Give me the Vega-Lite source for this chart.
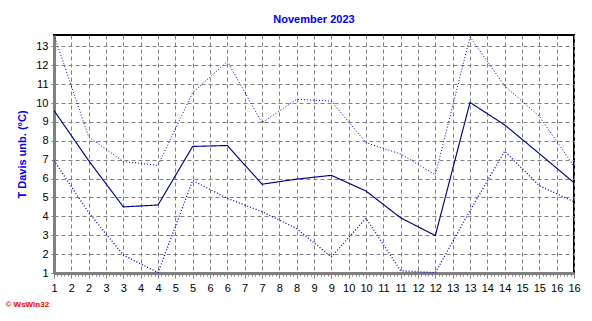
{
  "$schema": "https://vega.github.io/schema/vega-lite/v6.json",
  "autosize": "none",
  "width": 520,
  "height": 238,
  "padding": {"left": 54, "top": 35, "right": 18, "bottom": 48},
  "background": "white",
  "config": {
    "view": {"stroke": "#000000", "strokeWidth": 2},
    "font": "Liberation Sans"
  },
  "title": {
    "text": "November 2023",
    "font": "Liberation Sans",
    "fontSize": 11,
    "fontWeight": "bold",
    "color": "#0000FF",
    "offset": 10
  },
  "data": {
    "values": [
      {"day": 1, "s": "max", "t": 13.6}, {"day": 2, "s": "max", "t": 8.2}, {"day": 3, "s": "max", "t": 6.9}, {"day": 4, "s": "max", "t": 6.7},
      {"day": 5, "s": "max", "t": 10.55}, {"day": 6, "s": "max", "t": 12.2}, {"day": 7, "s": "max", "t": 8.95}, {"day": 8, "s": "max", "t": 10.2},
      {"day": 9, "s": "max", "t": 10.1}, {"day": 10, "s": "max", "t": 7.9}, {"day": 11, "s": "max", "t": 7.3}, {"day": 12, "s": "max", "t": 6.2},
      {"day": 13, "s": "max", "t": 13.5}, {"day": 14, "s": "max", "t": 10.9}, {"day": 15, "s": "max", "t": 9.3}, {"day": 16, "s": "max", "t": 6.65},
      {"day": 1, "s": "mean", "t": 9.6}, {"day": 2, "s": "mean", "t": 6.95}, {"day": 3, "s": "mean", "t": 4.5}, {"day": 4, "s": "mean", "t": 4.6},
      {"day": 5, "s": "mean", "t": 7.7}, {"day": 6, "s": "mean", "t": 7.75}, {"day": 7, "s": "mean", "t": 5.7}, {"day": 8, "s": "mean", "t": 5.97},
      {"day": 9, "s": "mean", "t": 6.17}, {"day": 10, "s": "mean", "t": 5.34}, {"day": 11, "s": "mean", "t": 3.92}, {"day": 12, "s": "mean", "t": 2.98},
      {"day": 13, "s": "mean", "t": 10.03}, {"day": 14, "s": "mean", "t": 8.84}, {"day": 15, "s": "mean", "t": 7.32}, {"day": 16, "s": "mean", "t": 5.78},
      {"day": 1, "s": "min", "t": 6.95}, {"day": 2, "s": "min", "t": 4.2}, {"day": 3, "s": "min", "t": 1.95}, {"day": 4, "s": "min", "t": 1.02},
      {"day": 5, "s": "min", "t": 5.9}, {"day": 6, "s": "min", "t": 4.95}, {"day": 7, "s": "min", "t": 4.25}, {"day": 8, "s": "min", "t": 3.35},
      {"day": 9, "s": "min", "t": 1.85}, {"day": 10, "s": "min", "t": 3.9}, {"day": 11, "s": "min", "t": 1.12}, {"day": 12, "s": "min", "t": 1.02},
      {"day": 13, "s": "min", "t": 4.3}, {"day": 14, "s": "min", "t": 7.45}, {"day": 15, "s": "min", "t": 5.62}, {"day": 16, "s": "min", "t": 4.77}
    ]
  },
  "resolve": {"axis": {"x": "independent"}},
  "layer": [
    {
      "mark": {"type": "line", "opacity": 0},
      "encoding": {
        "x": {
          "field": "day", "type": "quantitative",
          "scale": {"domain": [1, 16], "nice": false, "zero": false},
          "axis": {
            "orient": "bottom",
            "tickCount": 150,
            "labels": false, "domain": false, "grid": false, "title": null,
            "tickColor": "#808080", "tickSize": 3, "tickWidth": 1
          }
        },
        "y": {
          "field": "t", "type": "quantitative",
          "scale": {"domain": [1, 13.6], "nice": false, "zero": false},
          "axis": {
            "values": [1, 2, 3, 4, 5, 6, 7, 8, 9, 10, 11, 12, 13],
            "labelFont": "Liberation Sans", "labelFontSize": 11, "labelColor": "#000000",
            "labelPadding": 3,
            "grid": true, "gridColor": "#808080", "gridDash": [4, 3], "gridWidth": 1,
            "domainColor": "#808080", "domainWidth": 3,
            "tickColor": "#808080", "tickSize": 3,
            "title": "T Davis unb.  (°C)",
            "titleColor": "#0000FF", "titleFont": "Liberation Sans", "titleFontSize": 11, "titleFontWeight": "bold",
            "titlePadding": 8
          }
        },
        "detail": {"field": "s", "type": "nominal"}
      }
    },
    {
      "mark": {"type": "line", "clip": true},
      "encoding": {
        "x": {
          "field": "day", "type": "quantitative",
          "scale": {"domain": [1, 16], "nice": false, "zero": false},
          "axis": {
            "values": [1, 1.5, 2, 2.5, 3, 3.5, 4, 4.5, 5, 5.5, 6, 6.5, 7, 7.5, 8, 8.5, 9, 9.5, 10, 10.5, 11, 11.5, 12, 12.5, 13, 13.5, 14, 14.5, 15, 15.5, 16],
            "orient": "bottom",
            "format": ".0f",
            "labelFont": "Liberation Sans", "labelFontSize": 11, "labelColor": "#000000",
            "labelPadding": 4, "labelFlush": false, "labelOverlap": false,
            "grid": true, "gridColor": "#808080", "gridDash": [4, 3], "gridWidth": 1,
            "domainColor": "#808080", "domainWidth": 3,
            "tickColor": "#808080", "tickSize": 5, "tickWidth": 1,
            "title": "© WsWin32",
            "titleColor": "#FF0000", "titleFont": "Liberation Sans", "titleFontSize": 8, "titleFontWeight": "bold",
            "titleAnchor": "start", "titleAlign": "left", "titleX": -49, "titleY": 27
          }
        },
        "y": {
          "field": "t", "type": "quantitative",
          "scale": {"domain": [1, 13.6], "nice": false, "zero": false},
          "axis": {
            "values": [1, 2, 3, 4, 5, 6, 7, 8, 9, 10, 11, 12, 13],
            "labelFont": "Liberation Sans", "labelFontSize": 11, "labelColor": "#000000",
            "labelPadding": 3,
            "grid": true, "gridColor": "#808080", "gridDash": [4, 3], "gridWidth": 1,
            "domainColor": "#808080", "domainWidth": 3,
            "tickColor": "#808080", "tickSize": 3,
            "title": "T Davis unb.  (°C)",
            "titleColor": "#0000FF", "titleFont": "Liberation Sans", "titleFontSize": 11, "titleFontWeight": "bold",
            "titlePadding": 8
          }
        },
        "color": {
          "field": "s", "type": "nominal",
          "scale": {"domain": ["max", "mean", "min"], "range": ["#0000CC", "#00008B", "#0000CC"]},
          "legend": null
        },
        "strokeDash": {
          "field": "s", "type": "nominal",
          "scale": {"domain": ["max", "mean", "min"], "range": [[1, 2], [1, 0], [1, 2]]},
          "legend": null
        },
        "size": {
          "field": "s", "type": "nominal",
          "scale": {"domain": ["max", "mean", "min"], "range": [1, 1.3, 1]},
          "legend": null
        }
      }
    }
  ]
}
